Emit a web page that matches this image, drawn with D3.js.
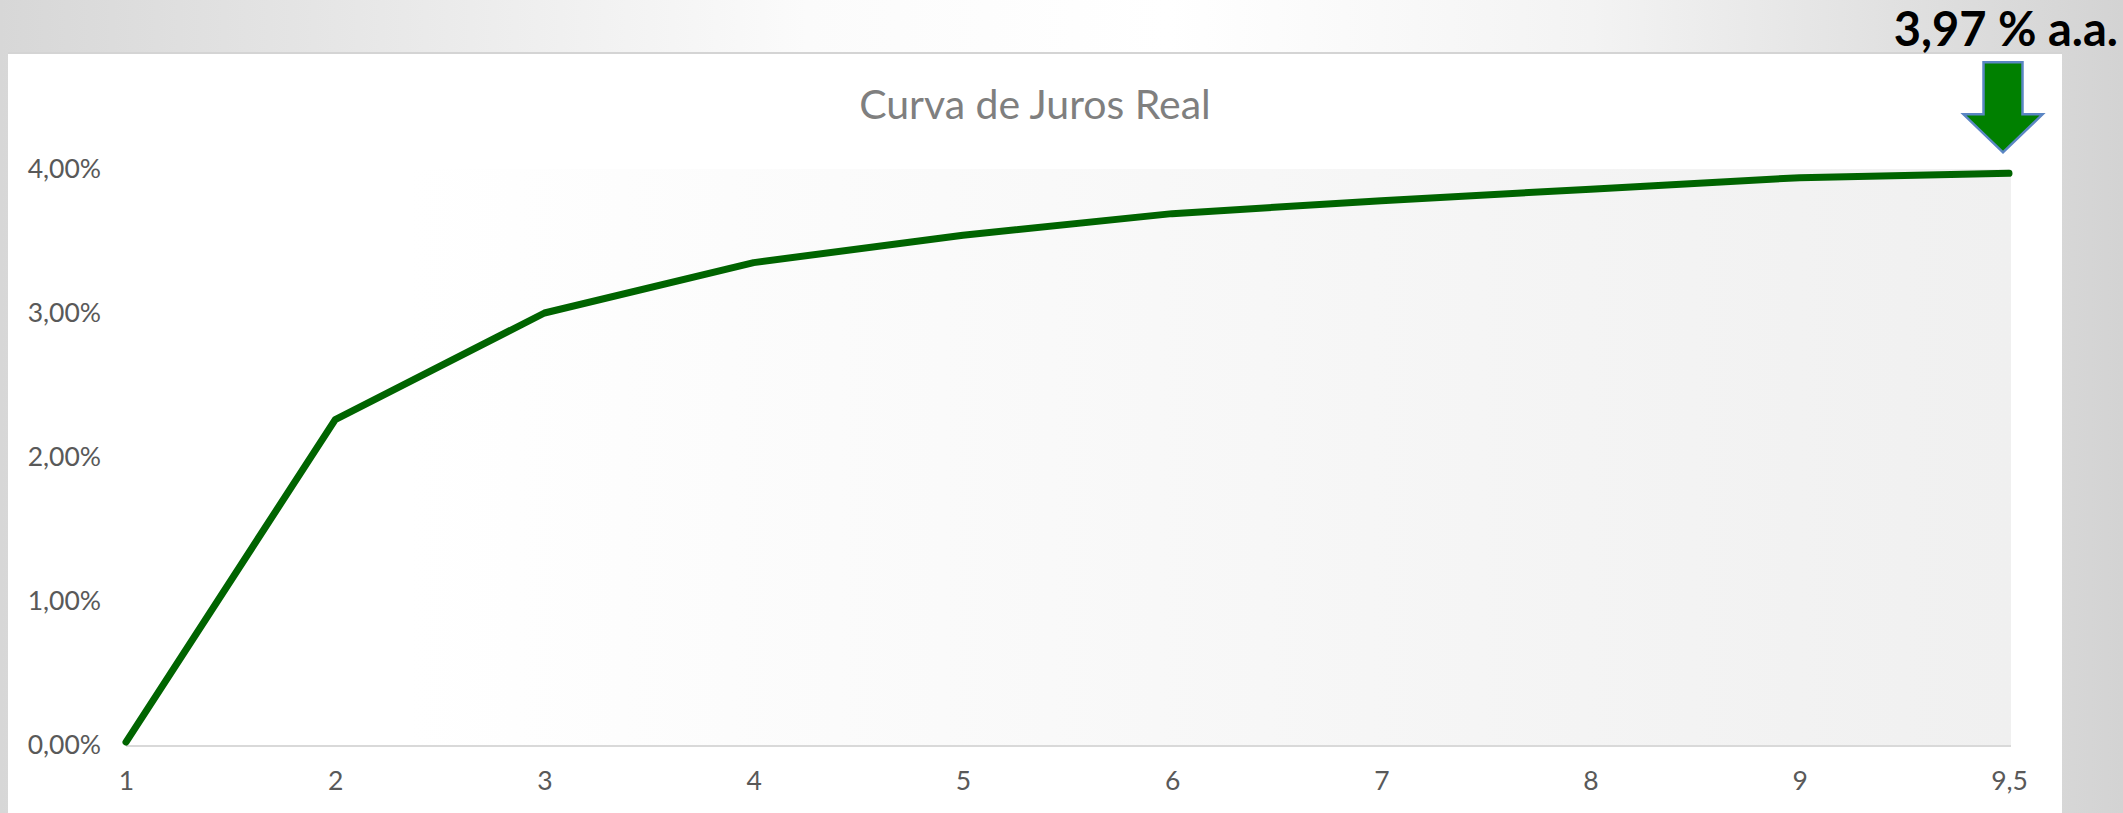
<!DOCTYPE html>
<html>
<head>
<meta charset="UTF-8">
<title>Curva de Juros Real</title>
<script src="https://d3js.org/d3.v7.min.js"></script>
<style>
  html, body { margin:0; padding:0; background:#fff; overflow:hidden; }
  svg { display:block; font-family: Lato, "Open Sans", sans-serif; }
  .tick text { fill:#595959; }
</style>
</head>
<body>
<div id="chart"></div>
<script>
// data (vencimento em anos, taxa real % a.a.)
const categories = ['1','2','3','4','5','6','7','8','9','9,5'];
const rates = [0.02, 2.26, 3.00, 3.35, 3.54, 3.69, 3.78, 3.86, 3.94, 3.97];
const yTicks = [0, 1, 2, 3, 4];
const title = 'Curva de Juros Real';
const callout = '3,97 % a.a.';

const W = 2123, H = 813;
const box = {left:8, top:54, right:2062};
const plot = {left:126, right:2011, top:169, bottom:745};

const svg = d3.select('#chart').append('svg')
  .attr('width', W).attr('height', H);

const defs = svg.append('defs');
const bgGrad = defs.append('linearGradient').attr('id','bg').attr('x1','0').attr('x2','1').attr('y1','0').attr('y2','0');
[[0,'#d7d7d7'],[0.38,'#fbfbfb'],[0.55,'#ffffff'],[0.75,'#f3f3f3'],[1,'#d3d3d3']].forEach(s => {
  bgGrad.append('stop').attr('offset', s[0]).attr('stop-color', s[1]);
});
const plotGrad = defs.append('linearGradient').attr('id','plotbg').attr('x1','0').attr('x2','1').attr('y1','0').attr('y2','0');
plotGrad.append('stop').attr('offset',0).attr('stop-color','#ffffff');
plotGrad.append('stop').attr('offset',0.15).attr('stop-color','#ffffff');
plotGrad.append('stop').attr('offset',1).attr('stop-color','#f0f0f0');
// line is cut flat at the bottom of the plot, like the original
defs.append('clipPath').attr('id','clip').append('rect')
  .attr('x', plot.left - 10).attr('y', plot.top - 20)
  .attr('width', plot.right - plot.left + 20).attr('height', plot.bottom - plot.top + 22);

// slide background + white chart box
svg.append('rect').attr('width', W).attr('height', H).attr('fill','url(#bg)');
svg.append('rect')
  .attr('x', box.left).attr('y', box.top)
  .attr('width', box.right - box.left).attr('height', H - box.top)
  .attr('fill','#fff');
svg.append('line')
  .attr('x1', box.left).attr('x2', box.right)
  .attr('y1', box.top - 1).attr('y2', box.top - 1)
  .attr('stroke','#d4d4d4').attr('stroke-width',2);

// plot area
svg.append('rect')
  .attr('x', plot.left).attr('y', plot.top)
  .attr('width', plot.right - plot.left).attr('height', plot.bottom - plot.top)
  .attr('fill','url(#plotbg)');

const x = d3.scalePoint().domain(categories).range([plot.left, 2009]);
const y = d3.scaleLinear().domain([0, 4]).range([plot.bottom, plot.top]);

const yAxis = d3.axisLeft(y)
  .tickValues(yTicks)
  .tickFormat(d => d.toFixed(2).replace('.', ',') + '%')
  .tickSize(0).tickPadding(25);
const xAxis = d3.axisBottom(x).tickSize(0).tickPadding(26);

svg.append('g')
  .attr('transform', `translate(${plot.left},0)`)
  .call(yAxis)
  .call(g => g.select('.domain').remove())
  .selectAll('text').attr('font-size', 26.5).attr('font-family','Lato, sans-serif');

svg.append('g')
  .attr('transform', `translate(0,${plot.bottom})`)
  .call(xAxis)
  .call(g => g.select('.domain').remove())
  .selectAll('text').attr('font-size', 26.5).attr('font-family','Lato, sans-serif');

svg.append('line')
  .attr('x1', plot.left).attr('x2', plot.right)
  .attr('y1', plot.bottom + 1).attr('y2', plot.bottom + 1)
  .attr('stroke','#d9d9d9').attr('stroke-width',2);

// title
svg.append('text')
  .attr('x', 1035).attr('y', 119)
  .attr('text-anchor','middle')
  .attr('font-size', 41)
  .attr('fill','#7f7f7f')
  .text(title);

// curve
const line = d3.line()
  .x((d,i) => x(categories[i]))
  .y(d => y(d));

svg.append('path')
  .datum(rates)
  .attr('clip-path','url(#clip)')
  .attr('fill','none')
  .attr('stroke','#006400')
  .attr('stroke-width',7)
  .attr('stroke-linejoin','round')
  .attr('stroke-linecap','round')
  .attr('d', line);

// arrow pointing at the last rate
const lastX = x(categories[categories.length - 1]) - 6;
const tipY = y(rates[rates.length - 1]) - 21;
const arrow = [
  [lastX - 19.5, tipY - 90], [lastX + 19.5, tipY - 90],
  [lastX + 19.5, tipY - 38], [lastX + 39.5, tipY - 38],
  [lastX, tipY], [lastX - 39.5, tipY - 38],
  [lastX - 19.5, tipY - 38]
];
svg.append('polygon')
  .attr('points', arrow.map(p => p.join(',')).join(' '))
  .attr('fill','#008000')
  .attr('stroke','#5b86c4')
  .attr('stroke-width',2.5)
  .attr('stroke-linejoin','miter');

svg.append('text')
  .attr('x', 2118).attr('y', 46)
  .attr('text-anchor','end')
  .attr('font-size', 47)
  .attr('font-weight','bold')
  .attr('fill','#000')
  .text(callout);
</script>
</body>
</html>
